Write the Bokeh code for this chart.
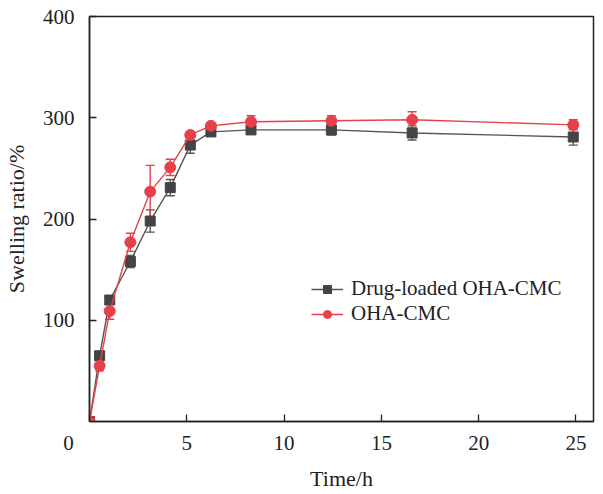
from bokeh.plotting import figure
from bokeh.models import (ColumnDataSource, Whisker, TeeHead, FixedTicker,
                          Legend, LegendItem, Range1d)
from bokeh.embed import file_html
from bokeh.resources import INLINE

# ---- data ----
time_h = [0, 0.52, 1.04, 2.1, 3.12, 4.15, 5.18, 6.24, 8.3, 12.43, 16.58, 24.86]
drug_loaded = [0, 65, 120, 158, 198, 231, 273, 286, 288, 288, 285, 281]
drug_loaded_err = [0, 4, 3, 6, 11, 8, 8, 3, 3, 5, 7, 8]
oha_cmc = [0, 55, 109, 177, 227, 251, 283, 292, 296, 297, 298, 293]
oha_cmc_err = [0, 5, 8, 9, 26, 8, 3, 3, 6, 5, 8, 5]
x_ticks = [0, 5, 10, 15, 20, 25]
y_ticks = [100, 200, 300, 400]

FONT = "Liberation Serif"
GRAY = "#444444"
GRAY_LINE = "#555555"
RED = "#e6404a"

p = figure(frame_width=504, frame_height=405, output_backend="svg", toolbar_location=None,
           x_range=Range1d(0, 25.9), y_range=Range1d(0, 400),
           min_border_left=84, min_border_right=3, min_border_top=16, min_border_bottom=68)
p.grid.visible = False
p.outline_line_color = "#222222"
p.outline_line_width = 1.5
p.background_fill_color = "white"
p.border_fill_color = "white"

src_d = ColumnDataSource(dict(x=time_h, y=drug_loaded,
                              lo=[a - b for a, b in zip(drug_loaded, drug_loaded_err)],
                              hi=[a + b for a, b in zip(drug_loaded, drug_loaded_err)]))
src_o = ColumnDataSource(dict(x=time_h, y=oha_cmc,
                              lo=[a - b for a, b in zip(oha_cmc, oha_cmc_err)],
                              hi=[a + b for a, b in zip(oha_cmc, oha_cmc_err)]))

# drug-loaded series
w1 = Whisker(source=src_d, base="x", upper="hi", lower="lo", line_color=GRAY_LINE, line_width=1.4,
             upper_head=TeeHead(size=9, line_color=GRAY_LINE, line_width=1.4),
             lower_head=TeeHead(size=9, line_color=GRAY_LINE, line_width=1.4))
p.add_layout(w1)
l1 = p.line("x", "y", source=src_d, line_color=GRAY_LINE, line_width=1.4)
m1 = p.scatter("x", "y", source=src_d, marker="square", size=10, fill_color=GRAY, line_color=GRAY)

# OHA-CMC series
w2 = Whisker(source=src_o, base="x", upper="hi", lower="lo", line_color=RED, line_width=1.4,
             upper_head=TeeHead(size=9, line_color=RED, line_width=1.4),
             lower_head=TeeHead(size=9, line_color=RED, line_width=1.4))
p.add_layout(w2)
l2 = p.line("x", "y", source=src_o, line_color=RED, line_width=1.4)
m2 = p.scatter("x", "y", source=src_o, marker="circle", size=11, fill_color=RED, line_color=RED)

# axes
for ax in (p.xaxis[0], p.yaxis[0]):
    ax.axis_line_color = "#222222"
    ax.axis_line_width = 1.5
    ax.major_tick_line_color = "#222222"
    ax.major_tick_line_width = 1.3
    ax.major_tick_in = 7
    ax.major_tick_out = 0
    ax.minor_tick_line_color = None
    ax.major_label_text_font = FONT
    ax.major_label_text_font_size = "21px"
    ax.major_label_text_color = "#222222"
    ax.axis_label_text_font = FONT
    ax.axis_label_text_font_size = "22px"
    ax.axis_label_text_font_style = "normal"
    ax.axis_label_text_color = "#222222"

p.xaxis.ticker = FixedTicker(ticks=x_ticks)
p.yaxis.ticker = FixedTicker(ticks=y_ticks)
# shared origin label "0" sits left of the corner, as in the reference
p.xaxis.major_label_overrides = {0: "0" + "\u00a0" * 8}
p.xaxis.axis_label = "Time/h"
p.yaxis.axis_label = "Swelling ratio/%"
p.xaxis.major_label_standoff = 9
p.yaxis.major_label_standoff = 15
p.xaxis.axis_label_standoff = 8
p.yaxis.axis_label_standoff = 11

legend = Legend(items=[LegendItem(label="Drug-loaded OHA-CMC", renderers=[l1, m1]),
                       LegendItem(label="OHA-CMC", renderers=[l2, m2])],
                location=(222, 95), padding=0, margin=0, spacing=0,
                glyph_width=32, glyph_height=20, label_standoff=8,
                label_text_font=FONT, label_text_font_size="21px", label_text_color="#222222",
                border_line_color=None, background_fill_alpha=0)
p.add_layout(legend)

open("out.html", "w").write(file_html(p, INLINE))
